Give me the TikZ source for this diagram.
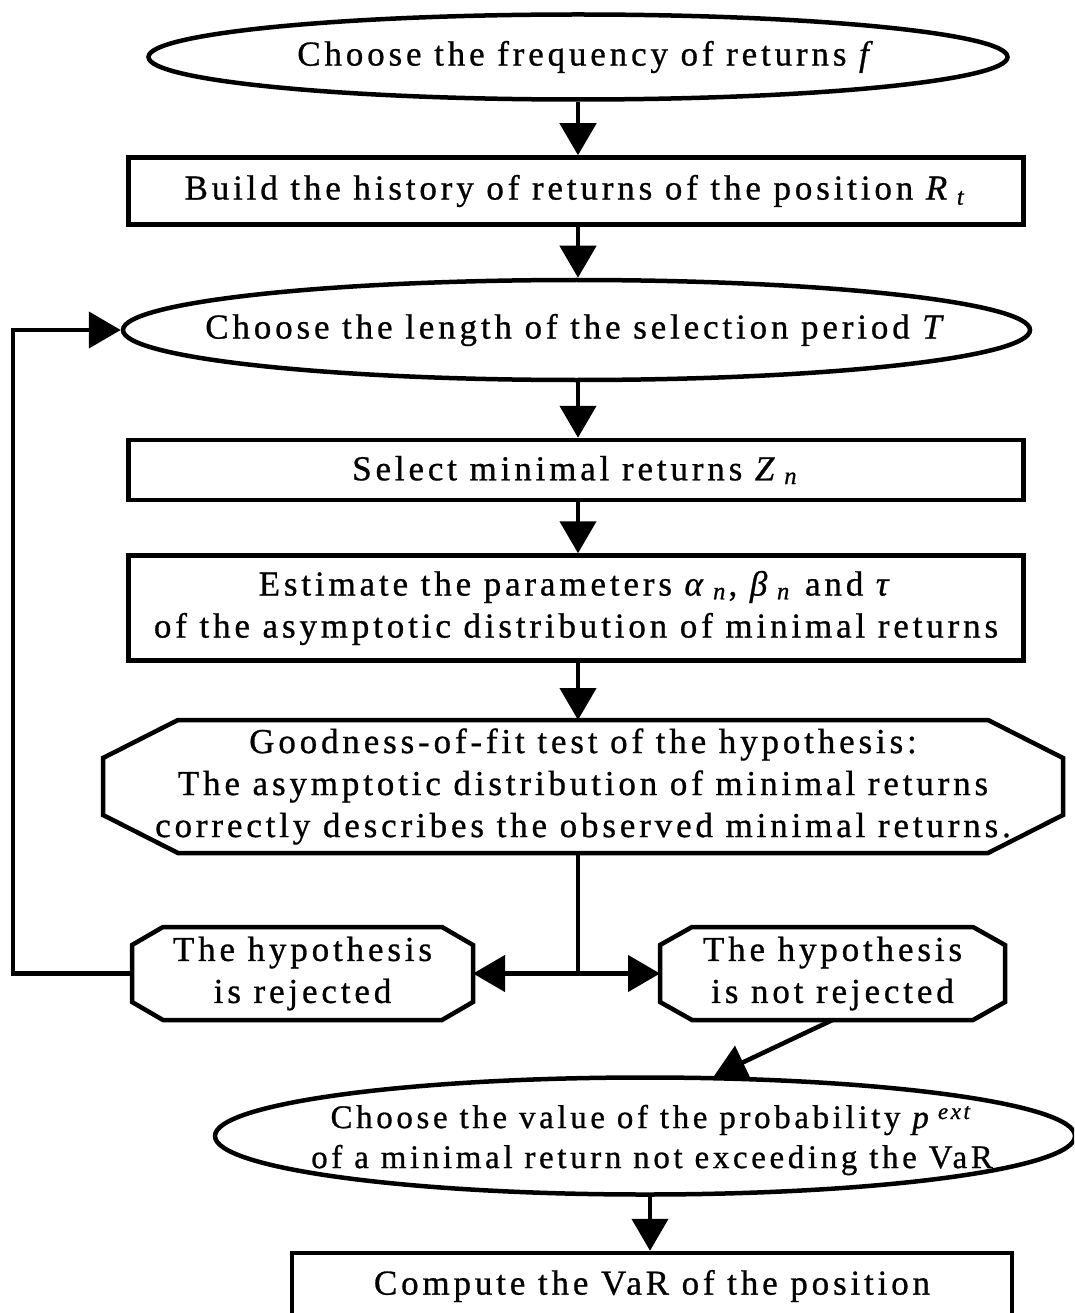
\documentclass[tikz,border=0pt]{standalone}
\usepackage{fontspec}
\setmainfont{Liberation Serif}[LetterSpace=11, FakeBold=0.8]
\usetikzlibrary{shapes.geometric,arrows.meta,calc}
\tikzset{
  txt/.style={font=\fontsize{35}{42}\selectfont, align=center, inner sep=0pt},
  base/.style={draw, line width=4.5pt, inner sep=0pt},
  oval/.style={base, ellipse},
  stepbox/.style={base, txt, rectangle},
  octo/.style={txt, rectangle, outer sep=0pt},
  arr/.style={line width=4.5pt, -{Triangle[width=36pt,length=32pt]}},
  ln/.style={line width=4.5pt, line join=miter},
}
\newcommand\octpath[3]{%
  \draw[ln] ($(#1.north west)+(#2,0)$) -- ($(#1.north east)+(-#2,0)$)
    -- ($(#1.north east)+(0,#3)$) -- ($(#1.south east)+(0,-#3)$)
    -- ($(#1.south east)+(-#2,0)$) -- ($(#1.south west)+(#2,0)$)
    -- ($(#1.south west)+(0,-#3)$) -- ($(#1.north west)+(0,#3)$) -- cycle;}
\begin{document}
\begin{tikzpicture}[x=1pt,y=-1pt]
\useasboundingbox (0,0) rectangle (1074,1313);
\clip (0,0) rectangle (1074,1313);
\node[oval, minimum width=859pt, minimum height=85pt] (e1) at (578,57) {};
\node[txt] (e1t) at (587,57) {Choose the frequency of returns \textit{f}};
\node[stepbox, minimum width=895pt, minimum height=67pt] (b2) at (576,191)
  {Build the history of returns of the position \textit{R}\,\textsubscript{\textit{t}}};
\node[oval, minimum width=907pt, minimum height=100pt] (e3) at (576.5,330) {};
\node[txt] (e3t) at (e3.center) {Choose the length of the selection period \textit{T}};
\node[stepbox, minimum width=895pt, minimum height=60pt] (b4) at (576,470)
  {Select minimal returns \textit{Z}\,\textsubscript{\textit{n}}};
\node[stepbox, minimum width=895pt, minimum height=105pt] (b5) at (576,608)
  {Estimate the parameters \textit{α}\,\textsubscript{\textit{n}}, \textit{β}\,\textsubscript{\textit{n}} and \textit{τ}\\
   of the asymptotic distribution of minimal returns};
\node[octo, minimum width=960pt, minimum height=133pt] (oct) at (583,786.5)
  {Goodness-of-fit test of the hypothesis:\\
   The asymptotic distribution of minimal returns\\
   correctly describes the observed minimal returns.};
\octpath{oct}{75}{38}
\node[octo, minimum width=341pt, minimum height=93pt] (r1) at (302.5,973.5)
  {The hypothesis\\ is rejected};
\octpath{r1}{31}{18}
\node[octo, minimum width=345pt, minimum height=93pt] (r2) at (832.5,973.5)
  {The hypothesis\\ is not rejected};
\octpath{r2}{32}{18}
\node[oval, minimum width=860pt, minimum height=117pt] (e6) at (645,1136) {};
\node[txt, font=\fontsize{33}{40}\selectfont] (e6t) at (652,1140)
  {Choose the value of the probability \textit{p}\,\textsuperscript{\textit{ext}}\\
   of a minimal return not exceeding the VaR};
\node[base, rectangle, minimum width=720pt, minimum height=80pt] (b7) at (652,1293) {};
\node[txt] (t7) at (652,1286) {Compute the VaR of the position};
\coordinate (split) at (578,973.5);
\draw[arr] (e1.south -| split) -- (b2.north -| split);
\draw[arr] (b2.south -| split) -- (e3.north -| split);
\draw[arr] (e3.south -| split) -- (b4.north -| split);
\draw[arr] (b4.south -| split) -- (b5.north -| split);
\draw[arr] (b5.south -| split) -- (oct.north -| split);
\draw[ln] (oct.south -| split) -- (split);
\draw[arr] (split) -- (r1.east);
\draw[arr] (split) -- (r2.west);
\draw[arr] (r1.west) -- ++(-119,0) |- (e3.west);
\draw[arr] (r2.south) -- (e6.41);
\coordinate (c7) at (650,0);
\draw[arr] (e6.south -| c7) -- (b7.north -| c7);
\end{tikzpicture}
\end{document}
